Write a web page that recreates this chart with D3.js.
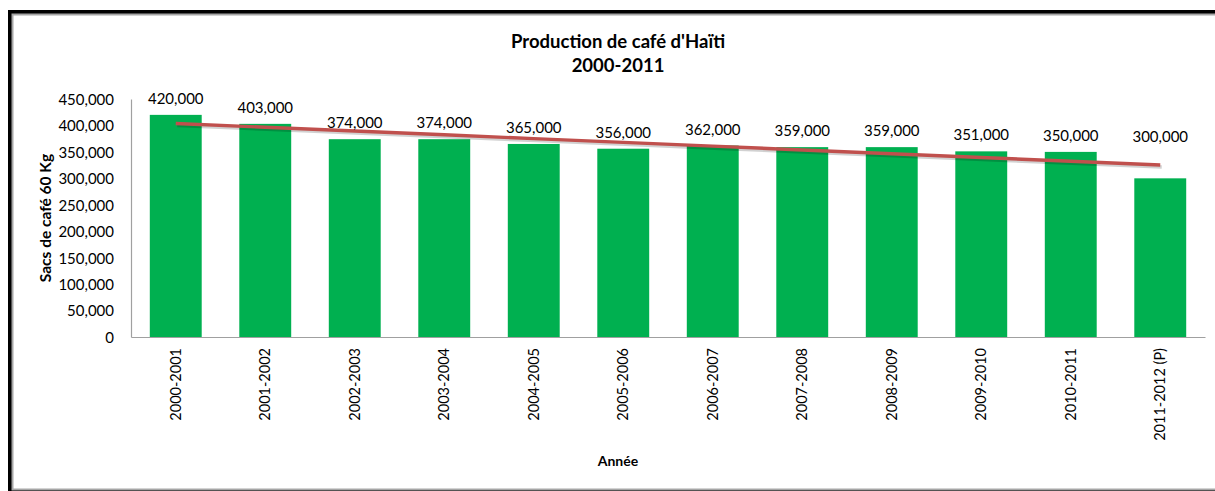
<!DOCTYPE html>
<html>
<head>
<meta charset="utf-8">
<script src="https://cdn.jsdelivr.net/npm/d3@7"></script>
<style>
  html, body { margin: 0; padding: 0; background: #fff; }
  svg { display: block; }
  text { font-family: Lato, "Open Sans", sans-serif; fill: #000; }
</style>
</head>
<body>
<svg id="chart" width="1215" height="491"></svg>
<script>
const categories = ["2000-2001","2001-2002","2002-2003","2003-2004","2004-2005","2005-2006","2006-2007","2007-2008","2008-2009","2009-2010","2010-2011","2011-2012 (P)"];
const production = [420000,403000,374000,374000,365000,356000,362000,359000,359000,351000,350000,300000];
const yTicks = [0,50000,100000,150000,200000,250000,300000,350000,400000,450000];
const titleLines = ["Production de café d'Haïti", "2000-2011"];
const yTitle = "Sacs de café 60 Kg";
const xTitle = "Année";

const svg = d3.select("#chart");
const W = 1215, H = 491;

// frame
svg.append("rect").attr("x", 0).attr("y", 0).attr("width", W).attr("height", H).attr("fill", "#fff");
svg.append("rect").attr("x", 8).attr("y", 10).attr("width", W + 10).attr("height", H + 10).attr("fill", "#000");
svg.append("rect").attr("x", 12.5).attr("y", 14.5).attr("width", W + 10).attr("height", 475).attr("fill", "#fff")
  .attr("stroke", "#a6a6a6").attr("stroke-width", 2);

const plot = { left: 131, right: 1205, top: 99, bottom: 337 };

const x = d3.scaleBand().domain(categories).range([plot.left, plot.right]).paddingInner(0.42).paddingOuter(0.21);
const y = d3.scaleLinear().domain([0, 450000]).range([plot.bottom, plot.top]);

const fmt = d3.format(",");

// bars
svg.append("g").selectAll("rect").data(production).join("rect")
  .attr("x", (d, i) => x(categories[i]))
  .attr("y", d => y(d))
  .attr("width", x.bandwidth())
  .attr("height", d => y(0) - y(d))
  .attr("fill", "#00b050");

// axes
const yAxis = svg.append("g").attr("transform", `translate(${plot.left},0)`)
  .call(d3.axisLeft(y).tickValues(yTicks).tickFormat(fmt).tickSize(0).tickPadding(17));
yAxis.select(".domain").attr("stroke", "#a0a0a0").attr("stroke-width", 1.2);
yAxis.selectAll("text").attr("font-size", 15).attr("dy", "0.36em");

const xAxis = svg.append("g").attr("transform", `translate(0,${plot.bottom})`)
  .call(d3.axisBottom(x).tickSize(0).tickSizeOuter(0));
xAxis.select(".domain").attr("stroke", "#a0a0a0").attr("stroke-width", 1.2);
xAxis.selectAll("text")
  .attr("font-size", 14.5)
  .attr("transform", "rotate(-90)")
  .attr("text-anchor", "end")
  .attr("x", -11)
  .attr("y", 0)
  .attr("dy", "0.36em");

// linear trendline (least squares fit of production)
const n = production.length;
const xs = d3.range(1, n + 1);
const mx = d3.mean(xs), my = d3.mean(production);
const slope = d3.sum(xs, (v, i) => (v - mx) * (production[i] - my)) / d3.sum(xs, v => (v - mx) * (v - mx));
const intercept = my - slope * mx;
const trend = xs.map(v => intercept + slope * v);
const cx = i => x(categories[i]) + x.bandwidth() / 2;
const line = d3.line().x((d, i) => cx(i)).y(d => y(d));

svg.append("path").datum(trend).attr("d", line)
  .attr("fill", "none").attr("stroke", "rgba(0,0,0,0.18)").attr("stroke-width", 3.5)
  .attr("transform", "translate(1.5,2)");
svg.append("path").datum(trend).attr("d", line)
  .attr("fill", "none").attr("stroke", "#c0504d").attr("stroke-width", 3.4);

// data labels
svg.append("g").selectAll("text").data(production).join("text")
  .attr("x", (d, i) => cx(i))
  .attr("y", (d, i) => i === n - 1 ? y(d) - 36 : y(d) - 11)
  .attr("text-anchor", "middle")
  .attr("font-size", 15)
  .text(d => fmt(d));

// titles
svg.append("g").selectAll("text").data(titleLines).join("text")
  .attr("x", 618).attr("y", (d, i) => 48 + i * 24)
  .attr("text-anchor", "middle").attr("font-weight", "bold").attr("font-size", 18.5)
  .text(d => d);

svg.append("text")
  .attr("transform", "translate(51,218) rotate(-90)")
  .attr("text-anchor", "middle").attr("font-weight", "bold").attr("font-size", 15.5)
  .text(yTitle);

svg.append("text")
  .attr("x", 618).attr("y", 466)
  .attr("text-anchor", "middle").attr("font-weight", "bold").attr("font-size", 14)
  .text(xTitle);
</script>
</body>
</html>
